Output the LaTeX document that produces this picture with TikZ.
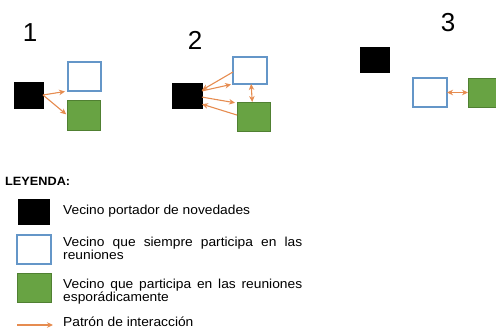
\documentclass[tikz,border=0pt]{standalone}
\usepackage{fontspec}
\setmainfont{Liberation Sans}
\newfontfamily\legfont[FakeStretch=1.06]{Liberation Sans}
\usetikzlibrary{arrows.meta,calc}
\definecolor{arrorange}{RGB}{230,140,80}
\definecolor{boxblue}{RGB}{100,150,200}
\definecolor{boxgreen}{RGB}{104,163,67}
\definecolor{boxgreenedge}{RGB}{80,128,50}
\tikzset{
  nbox/.style={inner sep=0pt, outer sep=0pt},
  blackbox/.style={nbox, fill=black, draw=black},
  bluebox/.style={nbox, fill=white, draw=boxblue, line width=1.8pt},
  greenbox/.style={nbox, fill=boxgreen, draw=boxgreenedge, line width=0.8pt},
  interact/.style={draw=arrorange, line width=1.1pt, -{Stealth[length=6pt,width=5.5pt]}},
  interactboth/.style={draw=arrorange, line width=1.1pt, {Stealth[length=6pt,width=5.5pt]}-{Stealth[length=6pt,width=5.5pt]}},
  numlabel/.style={inner sep=0pt, font=\fontsize{26}{28}\selectfont},
  legtext/.style={inner sep=0pt, anchor=base west, font=\legfont\fontsize{13}{11.5}\selectfont},
}
\begin{document}
\begin{tikzpicture}[x=1pt, y=-1pt]
\useasboundingbox (0,0) rectangle (496,332);

% Panel 1
\node[numlabel] (n1) at (30,33) {1};
\node[blackbox, minimum width=29pt, minimum height=26pt] (b1) at (28.5,95) {};
\node[bluebox, minimum width=33pt, minimum height=29pt] (w1) at (84.5,76.5) {};
\node[greenbox, minimum width=33pt, minimum height=30pt] (g1) at (83.5,115) {};
\draw[interact, shorten >=3pt] (b1.east) -- (w1.south west);
\draw[interact, shorten >=1pt] (b1.east) -- (g1.west);

% Panel 2
\node[numlabel] (n2) at (195,40) {2};
\node[blackbox, minimum width=30pt, minimum height=25pt] (b2) at (187,95.5) {};
\node[bluebox, minimum width=34pt, minimum height=27pt] (w2) at (250,70.5) {};
\node[greenbox, minimum width=33pt, minimum height=29pt] (g2) at (253.5,116.5) {};
\draw[interact] (w2.185) -- (b2.20);
\draw[interact, shorten >=2pt] (b2.17) -- (w2.south west);
\draw[interact, shorten >=2pt] (b2.-6) -- (g2.141);
\draw[interact] (g2.175) -- (b2.-30);
\draw[interactboth] (w2.275) -- (g2.95);

% Panel 3
\node[numlabel] (n3) at (448,23) {3};
\node[blackbox, minimum width=29pt, minimum height=25pt] (b3) at (374.5,59.5) {};
\node[bluebox, minimum width=34pt, minimum height=29pt] (w3) at (430,92.5) {};
\node[greenbox, minimum width=33pt, minimum height=29pt] (g3) at (484.5,92.5) {};
\draw[interactboth] (w3.east) -- (g3.west);

% Legend
\node[legtext, font=\legfont\bfseries\fontsize{12}{12}\selectfont] (ley) at (5,185) {LEYENDA:};
\node[blackbox, minimum width=31pt, minimum height=25pt] (lb) at (33.5,211.5) {};
\node[bluebox, minimum width=34pt, minimum height=29pt] (lw) at (34,249.5) {};
\node[greenbox, minimum width=34pt, minimum height=29pt] (lg) at (34,287.5) {};
\coordinate (la1) at (17,325);
\coordinate (la2) at (53,325);
\draw[interact] (la1) -- (la2);

\node[legtext] (t1) at (63,214) {Vecino portador de novedades};
\node[legtext] (t2) at (63,246) {\parbox[t]{239pt}{\baselineskip=11.5pt Vecino que siempre participa en las\linebreak reuniones}};
\node[legtext] (t3) at (63,288) {\parbox[t]{239pt}{\baselineskip=11.5pt Vecino que participa en las reuniones\linebreak esporádicamente}};
\node[legtext] (t4) at (63,326) {Patrón de interacción};
\end{tikzpicture}
\end{document}
